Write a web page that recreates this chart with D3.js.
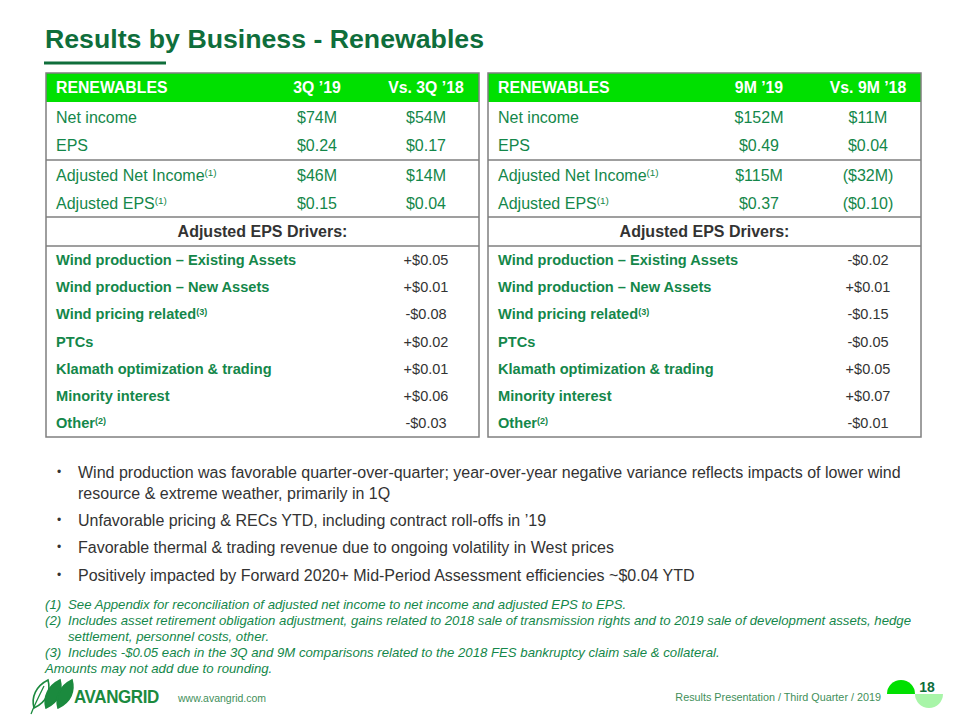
<!DOCTYPE html>
<html>
<head>
<meta charset="utf-8">
<script src="https://cdn.jsdelivr.net/npm/d3@7"></script>
<style>
  body { margin: 0; background: #fff; }
  svg { display: block; font-family: Arial, "Liberation Sans", sans-serif; }
</style>
</head>
<body>
<div id="slide"></div>
<script>
// table data
var headQ3 = ["RENEWABLES", "3Q \u201919", "Vs. 3Q \u201918"];
var headM9 = ["RENEWABLES", "9M \u201919", "Vs. 9M \u201918"];
var summaryLabels = ["Net income", "EPS", "Adjusted Net Income", "Adjusted EPS"];
var summaryNotes = ["", "", "(1)", "(1)"];
var q3Now = ["$74M", "$0.24", "$46M", "$0.15"];
var q3Prior = ["$54M", "$0.17", "$14M", "$0.04"];
var m9Now = ["$152M", "$0.49", "$115M", "$0.37"];
var m9Prior = ["$11M", "$0.04", "($32M)", "($0.10)"];
var drivers = ["Wind production \u2013 Existing Assets", "Wind production \u2013 New Assets", "Wind pricing related", "PTCs", "Klamath optimization & trading", "Minority interest", "Other"];
var driverNotes = ["", "", "(3)", "", "", "", "(2)"];
var q3Drivers = ["+$0.05", "+$0.01", "-$0.08", "+$0.02", "+$0.01", "+$0.06", "-$0.03"];
var m9Drivers = ["-$0.02", "+$0.01", "-$0.15", "-$0.05", "+$0.05", "+$0.07", "-$0.01"];

var bullets = [
  ["Wind production was favorable quarter-over-quarter; year-over-year negative variance reflects impacts of lower wind", "resource & extreme weather, primarily in 1Q"],
  ["Unfavorable pricing & RECs YTD, including contract roll-offs in \u201919"],
  ["Favorable thermal & trading revenue due to ongoing volatility in West prices"],
  ["Positively impacted by Forward 2020+ Mid-Period Assessment efficiencies ~$0.04 YTD"]
];
var footnotes = [
  ["(1)", "See Appendix for reconciliation of adjusted net income to net income and adjusted EPS to EPS."],
  ["(2)", "Includes asset retirement obligation adjustment, gains related to 2018 sale of transmission rights and to 2019 sale of development assets, hedge"],
  ["", "settlement, personnel costs, other."],
  ["(3)", "Includes -$0.05 each in the 3Q and 9M comparisons related to the 2018 FES bankruptcy claim sale & collateral."],
  ["", "Amounts may not add due to rounding."]
];

var W = 960, H = 720;
var darkGreen = "#0f6e3b", textGreen = "#14874a", brightGreen = "#00e000", grey = "#333333", border = "#7f7f7f";

var svg = d3.select("#slide").append("svg")
  .attr("width", W).attr("height", H);

// title
svg.append("text")
  .attr("x", 45).attr("y", 48)
  .attr("font-size", 26.7).attr("font-weight", "bold")
  .attr("fill", darkGreen)
  .text("Results by Business - Renewables");
svg.append("line")
  .attr("x1", 44).attr("x2", 166).attr("y1", 63).attr("y2", 63)
  .attr("stroke", darkGreen).attr("stroke-width", 3);

// row positions
var yTop = 73, yHeadEnd = 102, ySep1 = 160, ySep2 = 217, ySep3 = 246, yBottom = 437;
var ySummary = d3.scaleOrdinal().domain(summaryLabels).range([117, 145, 175, 203]);
var yDriver = d3.scalePoint().domain(drivers).range([260, 423]);
var colX = d3.scaleOrdinal().domain([0, 1, 2]).range([10, 271, 380]);
var tableW = 433;

function addLabel(g, x, y, label, note, opts) {
  var t = g.append("text")
    .attr("x", x).attr("y", y).attr("dy", "0.35em")
    .attr("font-size", opts.size).attr("font-weight", opts.weight)
    .attr("fill", opts.fill)
    .text(label);
  if (note) {
    t.append("tspan")
      .attr("font-size", opts.size * 0.62)
      .attr("dy", "-0.45em")
      .text(note);
  }
}

function drawTable(x0, head, now, prior, drv) {
  var g = svg.append("g").attr("transform", "translate(" + x0 + ",0)");

  g.append("rect")
    .attr("x", 0).attr("y", yTop).attr("width", tableW).attr("height", yHeadEnd - yTop)
    .attr("fill", brightGreen);

  g.selectAll("text.head").data(head).enter().append("text")
    .attr("class", "head")
    .attr("x", function(d, i) { return colX(i); })
    .attr("y", (yTop + yHeadEnd) / 2).attr("dy", "0.35em")
    .attr("text-anchor", function(d, i) { return i == 0 ? "start" : "middle"; })
    .attr("font-size", 15.8).attr("font-weight", "bold").attr("fill", "#fff")
    .text(function(d) { return d; });

  // summary rows
  summaryLabels.forEach(function(lab, i) {
    addLabel(g, colX(0), ySummary(lab), lab, summaryNotes[i], {size: 16, weight: "normal", fill: textGreen});
  });
  [now, prior].forEach(function(vals, c) {
    g.selectAll("text.v" + c).data(vals).enter().append("text")
      .attr("x", colX(c + 1))
      .attr("y", function(d, i) { return ySummary(summaryLabels[i]); }).attr("dy", "0.35em")
      .attr("text-anchor", "middle")
      .attr("font-size", 16).attr("fill", textGreen)
      .text(function(d) { return d; });
  });

  g.append("text")
    .attr("x", tableW / 2).attr("y", (ySep2 + ySep3) / 2).attr("dy", "0.35em")
    .attr("text-anchor", "middle")
    .attr("font-size", 16).attr("font-weight", "bold").attr("fill", grey)
    .text("Adjusted EPS Drivers:");

  // driver rows
  drivers.forEach(function(lab, i) {
    addLabel(g, colX(0), yDriver(lab), lab, driverNotes[i], {size: 14.6, weight: "bold", fill: textGreen});
  });
  g.selectAll("text.drv").data(drv).enter().append("text")
    .attr("x", colX(2))
    .attr("y", function(d, i) { return yDriver(drivers[i]); }).attr("dy", "0.35em")
    .attr("text-anchor", "middle")
    .attr("font-size", 14.5).attr("fill", grey)
    .text(function(d) { return d; });

  // borders
  [ySep1, ySep2, ySep3].forEach(function(y) {
    g.append("line").attr("x1", 0).attr("x2", tableW).attr("y1", y).attr("y2", y)
      .attr("stroke", border).attr("stroke-width", 1.5);
  });
  g.append("rect")
    .attr("x", 0).attr("y", yTop).attr("width", tableW).attr("height", yBottom - yTop)
    .attr("fill", "none").attr("stroke", border).attr("stroke-width", 1.5);
}

drawTable(46, headQ3, q3Now, q3Prior, q3Drivers);
drawTable(488, headM9, m9Now, m9Prior, m9Drivers);

// bullets
var bulletY = [[472, 493], [520], [547], [575]];
bullets.forEach(function(lines, i) {
  svg.append("text")
    .attr("x", 57).attr("y", bulletY[i][0]).attr("dy", "0.35em")
    .attr("font-size", 12).attr("fill", grey).text("\u2022");
  lines.forEach(function(line, j) {
    svg.append("text")
      .attr("x", 78).attr("y", bulletY[i][j]).attr("dy", "0.35em")
      .attr("font-size", 16).attr("fill", grey).text(line);
  });
});

// footnotes
var footY = d3.scalePoint().domain(d3.range(footnotes.length)).range([604, 668]);
footnotes.forEach(function(f, i) {
  var g = svg.append("g").attr("font-size", 13.2).attr("font-style", "italic").attr("fill", textGreen);
  if (f[0]) g.append("text").attr("x", 45).attr("y", footY(i)).attr("dy", "0.35em").text(f[0]);
  g.append("text").attr("x", i == 4 ? 45 : 68).attr("y", footY(i)).attr("dy", "0.35em").text(f[1]);
});

// footer: logo
var logoGreen = "#1b8a3e";
var logo = svg.append("g").attr("transform", "translate(28,678)");
var leaf = "M0,28 C-3,17 2,6 14,0 C17,11 13,22 0,28 Z";
[0, 1, 2].forEach(function(i) {
  logo.append("path")
    .attr("d", leaf)
    .attr("transform", "translate(" + (6 + i * 12) + ",2)")
    .attr("fill", i == 0 ? "#fff" : logoGreen)
    .attr("stroke", logoGreen).attr("stroke-width", 1.6);
});
logo.append("path").attr("d", "M3,36 C6,28 10,20 16,8")
  .attr("fill", "none").attr("stroke", logoGreen).attr("stroke-width", 1.3);
logo.append("text")
  .attr("transform", "translate(46,25) scale(1,1.12)")
  .attr("font-size", 17).attr("font-weight", "bold").attr("fill", logoGreen)
  .attr("letter-spacing", -0.4)
  .text("AVANGRID");

svg.append("text")
  .attr("x", 178).attr("y", 698).attr("dy", "0.35em")
  .attr("font-size", 10.5).attr("fill", "#3f8f5a")
  .text("www.avangrid.com");

svg.append("text")
  .attr("x", 881).attr("y", 697).attr("dy", "0.35em")
  .attr("text-anchor", "end")
  .attr("font-size", 10.8).attr("fill", "#3f8f5a")
  .text("Results Presentation / Third Quarter / 2019");

// page badge
var arc = d3.arc().innerRadius(0).outerRadius(14);
svg.append("path")
  .attr("transform", "translate(901,694)")
  .attr("d", arc({startAngle: -Math.PI / 2, endAngle: Math.PI / 2}))
  .attr("fill", brightGreen);
svg.append("path")
  .attr("transform", "translate(929,694)")
  .attr("d", arc({startAngle: Math.PI / 2, endAngle: Math.PI * 1.5}))
  .attr("fill", "#a8f5a8");
svg.append("text")
  .attr("x", 927).attr("y", 687).attr("dy", "0.35em")
  .attr("text-anchor", "middle")
  .attr("font-size", 14).attr("font-weight", "bold").attr("fill", darkGreen)
  .text("18");
</script>
</body>
</html>
